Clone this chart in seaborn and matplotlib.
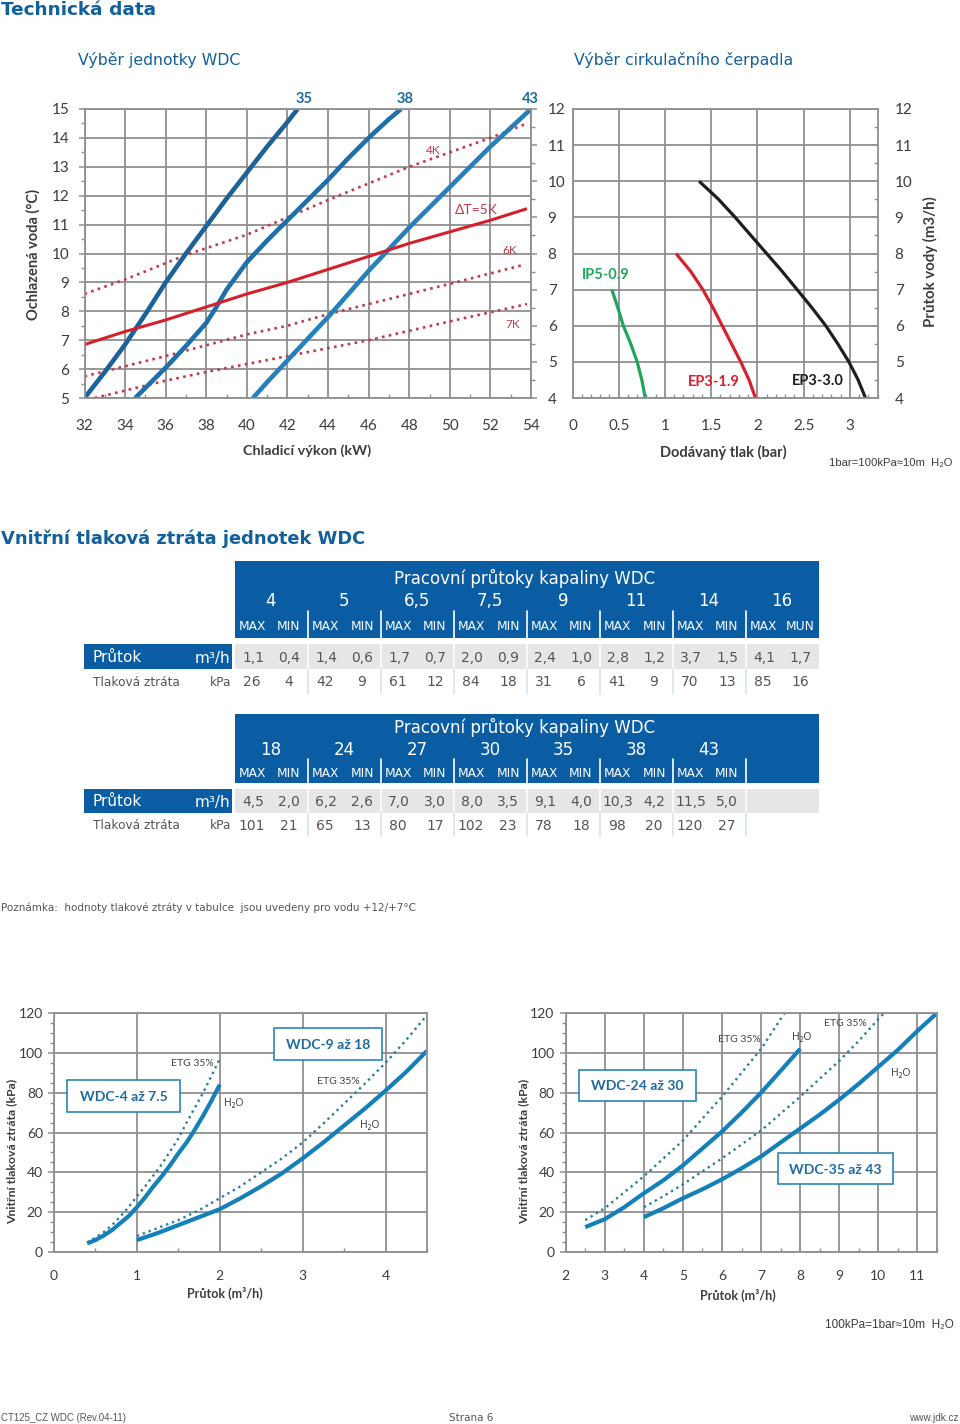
import matplotlib
matplotlib.use("Agg")
import matplotlib.pyplot as plt
from matplotlib.patches import Rectangle
from matplotlib.ticker import MultipleLocator
import seaborn as sns
import pandas as pd

# ---------- chart 1 data ----------
c35_x = [32, 33, 34, 35, 36, 37, 38, 39, 40, 41, 42, 42.5]
c35_y = [5, 5.9, 6.85, 7.9, 9, 10, 10.95, 11.9, 12.8, 13.7, 14.55, 15]
c38_x = [34.5, 35, 36, 37, 38, 38.5, 39, 40, 41, 42, 43, 44, 45, 46, 47, 47.6]
c38_y = [5, 5.35, 6.05, 6.8, 7.6, 8.15, 8.75, 9.7, 10.45, 11.15, 11.85, 12.55, 13.3, 14, 14.65, 15]
c43_x = [40.3, 41, 42, 43, 44, 45, 46, 47, 48, 49, 50, 51, 52, 53, 54]
c43_y = [5, 5.55, 6.3, 7.05, 7.8, 8.6, 9.4, 10.15, 10.9, 11.6, 12.3, 13, 13.7, 14.35, 15]
dt5_x = [32, 34, 36, 38, 40, 42, 44, 46, 48, 50, 52, 53.8]
dt5_y = [6.85, 7.3, 7.7, 8.15, 8.6, 9, 9.45, 9.9, 10.35, 10.75, 11.15, 11.55]
dt4_x = [32, 34, 37, 40, 42, 44, 48, 50, 52, 53.8]
dt4_y = [8.6, 9.1, 9.95, 10.65, 11.25, 11.85, 13, 13.5, 14, 14.5]
dt6_x = [32, 36, 40, 42, 44, 46, 50, 53.6]
dt6_y = [5.75, 6.45, 7.2, 7.5, 7.9, 8.25, 8.95, 9.6]
dt7_x = [32.5, 36, 38, 42, 46, 50, 53.8]
dt7_y = [5, 5.6, 5.9, 6.45, 7, 7.65, 8.25]
# ---------- chart 2 data ----------
ep30_q = [4, 4.5, 5, 5.5, 6, 6.5, 7, 7.5, 8, 8.5, 9, 9.5, 10]
ep30_p = [3.17, 3.09, 2.99, 2.87, 2.74, 2.59, 2.43, 2.27, 2.10, 1.93, 1.76, 1.58, 1.37]
ep19_q = [4, 4.5, 5, 5.5, 6, 6.5, 7, 7.5, 8]
ep19_p = [1.98, 1.91, 1.82, 1.72, 1.62, 1.52, 1.41, 1.28, 1.12]
ip09_q = [4, 4.5, 5, 5.5, 6, 6.5, 7]
ip09_p = [0.787, 0.75, 0.70, 0.63, 0.55, 0.49, 0.426]
# ---------- tables ----------
head1 = ["4", "5", "6,5", "7,5", "9", "11", "14", "16"]
sub1 = ["MAX", "MIN"] * 7 + ["MAX", "MUN"]
flow1 = ["1,1","0,4","1,4","0,6","1,7","0,7","2,0","0,9","2,4","1,0","2,8","1,2","3,7","1,5","4,1","1,7"]
loss1 = ["26","4","42","9","61","12","84","18","31","6","41","9","70","13","85","16"]
head2 = ["18", "24", "27", "30", "35", "38", "43"]
sub2 = ["MAX", "MIN"] * 7
flow2 = ["4,5","2,0","6,2","2,6","7,0","3,0","8,0","3,5","9,1","4,0","10,3","4,2","11,5","5,0"]
loss2 = ["101","21","65","13","80","17","102","23","78","18","98","20","120","27"]
# ---------- chart 3 data ----------
a_x = [0.4, 0.5, 0.6, 0.7, 0.8, 0.9, 1, 1.1, 1.2, 1.3, 1.4, 1.5, 1.6, 1.7, 1.8, 1.9, 2]
a_h2o = [4.3, 6, 8.3, 11, 14.5, 18, 22.5, 27.5, 33, 38, 43.5, 49.5, 55, 61.5, 68.5, 76, 84]
a_etg = [4.8, 7.2, 10, 13.5, 17.8, 22.5, 28, 33, 38.5, 44, 50.5, 57, 65, 72.5, 80, 88.5, 97]
b_x = [1, 1.25, 1.5, 1.75, 2, 2.25, 2.5, 2.75, 3, 3.25, 3.5, 3.75, 4, 4.25, 4.5]
b_h2o = [6, 9.5, 13.5, 17.5, 21.5, 27, 33, 39.5, 47, 55, 63.5, 72, 81, 90.5, 101]
b_etg = [8, 12, 16, 21, 27, 33, 40, 47, 55, 64.5, 74.5, 84.5, 95, 106.5, 119]
# ---------- chart 4 data ----------
c_x = [2.5, 3, 3.5, 4, 4.5, 5, 5.5, 6, 6.5, 7, 7.5, 8]
c_h2o = [12.5, 16.5, 22.5, 29.5, 36, 43.5, 52, 60.5, 70, 80, 91, 102]
ce_x = [2.5, 3, 3.5, 4, 4.5, 5, 5.5, 6, 6.5, 7, 7.6]
c_etg = [16, 22, 30, 38, 47, 56, 67, 78, 90, 102, 120]
d_x = [4, 4.5, 5, 5.5, 6, 6.5, 7, 7.5, 8, 8.5, 9, 9.5, 10, 10.5, 11, 11.5]
d_h2o = [17.5, 22, 27, 31.5, 36.5, 42, 48, 55, 62, 69, 76.5, 84.5, 93, 101.5, 111, 120]
de_x = [4, 4.5, 5, 5.5, 6, 6.5, 7, 7.5, 8, 8.5, 9, 9.5, 10, 10.15]
d_etg = [22.5, 28, 34, 40.5, 47, 54, 61, 69.5, 78, 87, 96, 106, 117, 120]

sns.set_theme(style="white")
plt.rcParams["font.family"] = ["Lato", "DejaVu Sans"]
W, H = 960, 1424
fig = plt.figure(figsize=(W / 100, H / 100), dpi=100, facecolor="white")

GRID = "#8f8f8f"
TXT = "#3c3c3c"
TITLE = "#11609c"
TBL = "#0a5ca3"
WIDE = ["DejaVu Sans"]


def box(l, t, r, b):
    return fig.add_axes([l / W, 1 - b / H, (r - l) / W, (b - t) / H])


over = fig.add_axes([0, 0, 1, 1], zorder=10)
over.set_xlim(0, W)
over.set_ylim(H, 0)
over.axis("off")
over.patch.set_alpha(0)


def T(x, y, s, size=10, color=TXT, ha="center", weight="normal", rot=0, family=None):
    kw = {} if family is None else {"family": family}
    over.text(x, y, s, fontsize=size, color=color, ha=ha, va="center",
              fontweight=weight, rotation=rot, **kw)


def R(l, t, r, b, fc, ec="none", lw=0, zo=1):
    over.add_patch(Rectangle((l, t), r - l, b - t, fc=fc, ec=ec, lw=lw, zorder=zo))


def style(ax, xlim, ylim, xt, yt, xminor, yminor, labelsize=11):
    ax.set_xlim(*xlim)
    ax.set_ylim(*ylim)
    ax.set_xticks(xt)
    ax.set_yticks(yt)
    ax.xaxis.set_minor_locator(MultipleLocator(xminor))
    ax.yaxis.set_minor_locator(MultipleLocator(yminor))
    ax.grid(True, which="major", color=GRID, lw=1.3)
    ax.set_axisbelow(True)
    for s in ax.spines.values():
        s.set_color(GRID)
        s.set_linewidth(1.3)
    ax.tick_params(axis="both", which="major", length=4, width=1.1, color=GRID,
                   labelsize=labelsize, labelcolor=TXT, pad=8, bottom=True, left=True)
    ax.tick_params(axis="x", which="minor", direction="in", length=3, width=1, color=GRID, bottom=True)
    ax.tick_params(axis="y", which="minor", direction="out", length=3, width=1, color=GRID, left=True)
    ax.set_xlabel("")
    ax.set_ylabel("")


def curve(ax, x, y, color, lw, ls="-"):
    df = pd.DataFrame({"x": x, "y": y})
    sns.lineplot(data=df, x="x", y="y", ax=ax, color=color, lw=lw, ls=ls,
                 estimator=None, sort=False, legend=False, solid_capstyle="butt", clip_on=True)


# ---------- Chart 1 ----------
ax1 = box(84.5, 109, 531, 398)
curve(ax1, dt4_x, dt4_y, "#c33a4c", 1.9, ":")
curve(ax1, dt6_x, dt6_y, "#c33a4c", 1.9, ":")
curve(ax1, dt7_x, dt7_y, "#c33a4c", 1.9, ":")
curve(ax1, c35_x, c35_y, "#1c6298", 3.3)
curve(ax1, c38_x, c38_y, "#1f6fa8", 3.3)
curve(ax1, c43_x, c43_y, "#2680bb", 3.3)
curve(ax1, dt5_x, dt5_y, "#d5202c", 2.2)
style(ax1, (32, 54), (5, 15), list(range(32, 55, 2)), list(range(5, 16)), 1, 0.5)
ax1.tick_params(axis="x", which="major", length=0, pad=15)
ax1.tick_params(axis="y", which="major", pad=7)
ax1b = ax1.twinx()
ax1b.set_ylim(4, 12)
ax1b.set_yticks(list(range(4, 13)))
ax1b.yaxis.set_minor_locator(MultipleLocator(0.5))
ax1b.grid(False)
for s in ax1b.spines.values():
    s.set_visible(False)
ax1b.tick_params(axis="y", which="major", right=True, length=4, width=1.1, color=GRID,
                 labelsize=11, labelcolor=TXT, pad=8)
ax1b.tick_params(axis="y", which="minor", right=True, length=3, width=1, color=GRID)

# ---------- Chart 2 ----------
ax2 = box(572.5, 109, 878, 398)
curve(ax2, ep30_p, ep30_q, "#1e1e1e", 2.3)
curve(ax2, ep19_p, ep19_q, "#d5222e", 2.3)
curve(ax2, ip09_p, ip09_q, "#1fa55c", 2.3)
style(ax2, (0, 3.305), (4, 12), [0, 0.5, 1, 1.5, 2, 2.5, 3], list(range(4, 13)), 0.1, 0.5)
ax2.set_xticklabels(["0", "0.5", "1", "1.5", "2", "2.5", "3"])
ax2.tick_params(axis="x", which="major", length=0, pad=15)
ax2.tick_params(axis="y", which="both", left=False, right=True, direction="in", labelleft=False,
                labelright=True, pad=12)
ax2.tick_params(axis="y", which="major", length=0)

# ---------- Chart 3 ----------
ax3 = box(54, 1013, 427, 1252)
curve(ax3, a_x, a_etg, "#2a7d9f", 1.7, ":")
curve(ax3, b_x, b_etg, "#2a7d9f", 1.7, ":")
curve(ax3, a_x, a_h2o, "#1380b9", 3)
curve(ax3, b_x, b_h2o, "#1380b9", 3)
style(ax3, (0, 4.5), (0, 120), [0, 1, 2, 3, 4], list(range(0, 121, 20)), 0.5, 5, 10)
ax3.tick_params(axis="x", which="major", length=0, pad=13)
ax3.tick_params(axis="y", which="major", pad=4)

# ---------- Chart 4 ----------
ax4 = box(565.7, 1013, 937, 1252)
curve(ax4, ce_x, c_etg, "#2a7d9f", 1.7, ":")
curve(ax4, de_x, d_etg, "#2a7d9f", 1.7, ":")
curve(ax4, c_x, c_h2o, "#1380b9", 3)
curve(ax4, d_x, d_h2o, "#1380b9", 3)
style(ax4, (2, 11.5), (0, 120), list(range(2, 12)), list(range(0, 121, 20)), 0.5, 5, 10)
ax4.tick_params(axis="x", which="major", length=0, pad=13)
ax4.tick_params(axis="y", which="major", pad=4)

# ---------- Headings ----------
T(1, 10, "Technická data", 13.3, TITLE, "left", "bold", family=WIDE)
T(78, 60.5, "Výběr jednotky WDC", 11.3, TITLE, "left", family=WIDE)
T(574, 60.5, "Výběr cirkulačního čerpadla", 11.3, TITLE, "left", family=WIDE)
T(1, 538.5, "Vnitřní tlaková ztráta jednotek WDC", 12.9, TITLE, "left", "bold", family=WIDE)

# chart 1 / 2 annotations
T(33, 255, "Ochlazená voda (°C)", 10.5, TXT, weight="bold", rot=90)
T(307, 451, "Chladicí výkon (kW)", 10.4, TXT, weight="bold")
T(723, 452, "Dodávaný tlak (bar)", 10.5, TXT, weight="bold")
T(930, 262, "Průtok vody (m3/h)", 10.8, TXT, weight="bold", rot=90)
for x, s in [(304, "35"), (405, "38"), (530, "43")]:
    T(x, 99, s, 10.5, "#1f6a9f", weight="bold")
RED = "#c33a4c"
T(433, 150, "4K", 8.5, RED)
T(476, 210, "ΔT=5K", 10, RED)
T(510, 251, "6K", 8.5, RED)
T(513, 325, "7K", 8.5, RED)
T(606, 275, "IP5-0.9", 10.5, "#1fa55c", weight="bold")
T(714, 382, "EP3-1.9", 10.5, "#d5222e", weight="bold")
T(818, 381, "EP3-3.0", 10.5, "#1e1e1e", weight="bold")
T(829, 463, "1bar=100kPa≈10m  H₂O", 8.1, TXT, "left", family=["Liberation Sans", "DejaVu Sans"])


# ---------- Tables ----------
COL0 = 235
COLW = 73
RIGHT = 819


def table(top, title_y, num_y, sub_y, hdr_bot, sep_top, row_top, row_mid, row_bot, heads, subs, flows, losses, fy, ly):
    R(COL0, top, RIGHT, hdr_bot, TBL)
    T(525, title_y + 0.5, "Pracovní průtoky kapaliny WDC", 12, "white", family=WIDE)
    R(84, row_top, 232, row_mid, TBL)
    T(92, fy, "Průtok", 11, "white", "left", family=WIDE)
    T(230, fy, "m³/h", 11, "white", "right", family=WIDE)
    T(93, ly + 0.5, "Tlaková ztráta", 8.7, "#555555", "left", family=WIDE)
    T(231, ly + 0.5, "kPa", 8.7, "#555555", "right", family=WIDE)
    R(COL0, row_top, RIGHT, row_mid, "#e6e6e6")
    for i, h in enumerate(heads):
        T(271 + COLW * i, num_y + 1, h, 12, "white", family=WIDE)
    for i, s in enumerate(subs):
        T(252 + COLW * (i // 2) + (37 if i % 2 else 0), sub_y + 0.5, s, 8.8, "white", family=WIDE)
    for i, s in enumerate(flows):
        xc = 253 + COLW * (i // 2) + (36 if i % 2 else 0)
        T(xc, fy + 0.5, s, 10, "#555555", family=WIDE)
    for i, s in enumerate(losses):
        xc = 252 + COLW * (i // 2) + (37 if i % 2 else 0)
        T(xc, ly + 0.5, s, 10, "#555555", family=WIDE)
    for k in range(1, 8):
        x = COL0 + COLW * k - 0.5 + (0.5 if k > 3 else 0)
        over.plot([x, x], [sep_top, hdr_bot], color="white", lw=1.2, zorder=3)
        over.plot([x, x], [row_top, row_mid], color="white", lw=1.2, zorder=3)
        over.plot([x, x], [row_mid, row_bot], color="#d3e6f1", lw=1.2, zorder=3)


table(561, 578, 600, 626, 638, 611, 644, 669, 694, head1, sub1, flow1, loss1, 658, 682)
table(714, 727, 749, 773, 783, 759, 789, 813, 836, head2, sub2, flow2, loss2, 802, 825)

T(1, 908, "Poznámka:  hodnoty tlakové ztráty v tabulce  jsou uvedeny pro vodu +12/+7°C", 7.45, "#555555", "left", family=WIDE)

# ---------- bottom chart annotations ----------
T(12, 1151, "Vnitřní tlaková ztráta (kPa)", 8.8, TXT, weight="bold", rot=90)
T(524, 1151, "Vnitřní tlaková ztráta (kPa)", 8.8, TXT, weight="bold", rot=90)
T(225, 1293, "Průtok (m³/h)", 9, TXT, weight="bold")
T(738, 1295, "Průtok (m³/h)", 9, TXT, weight="bold")
for l, t, r, b, s in [(67, 1080, 180, 1112, "WDC-4 až 7.5"), (274, 1028, 382, 1060, "WDC-9 až 18"),
                      (579, 1070, 696, 1101, "WDC-24 až 30"), (778, 1153, 893, 1184, "WDC-35 až 43")]:
    R(l, t, r, b, "white", "#2a86b5", 1.2, 4)
    over.text((l + r) / 2, (t + b) / 2 + 1, s, fontsize=10.1, color="#1f6a9f", fontweight="bold",
              ha="center", va="center", zorder=5)
for x, y, s in [(192, 1064, "ETG 35%"), (338, 1082, "ETG 35%"), (739, 1039, "ETG 35%"), (845, 1024, "ETG 35%")]:
    T(x, y, s, 7.5, "#444444")
for x, y in [(234, 1104), (370, 1125), (802, 1037), (901, 1073)]:
    T(x, y, "H₂O", 7.5, "#444444", family=["Noto Sans", "DejaVu Sans"])
T(825, 1325, "100kPa=1bar≈10m  H₂O", 8.5, TXT, "left", family=["Liberation Sans", "DejaVu Sans"])

# ---------- footer ----------
T(1, 1418, "CT125_CZ WDC (Rev.04-11)", 6.9, "#555555", "left", family=["Liberation Sans"])
T(449, 1418, "Strana 6", 7.5, "#555555", "left", family=WIDE)
T(959, 1418, "www.jdk.cz", 7.2, "#555555", "right", family=["Liberation Sans"])

fig.savefig("out.png", dpi=100)
